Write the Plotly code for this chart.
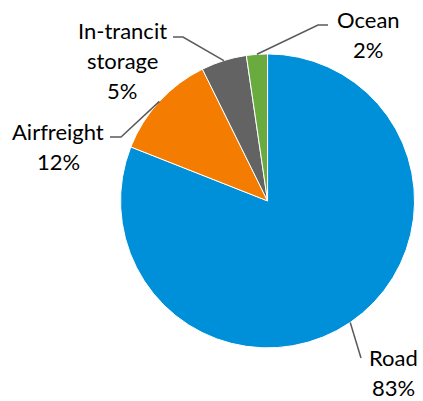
import math
import plotly.graph_objects as go

# ---- data ----
categories = ["Road", "Airfreight", "In-trancit<br>storage", "Ocean"]
shares = [80.9, 11.7, 5.0, 2.3]
pct_labels = ["83%", "12%", "5%", "2%"]
colors = ["#0090DA", "#F47C00", "#636363", "#6AAB3F"]

W, H = 423, 401
dom_x = [0.285, 0.980]
dom_y = [0.132, 0.866]
LINE_GAP = 30  # px between label lines

fig = go.Figure(go.Pie(
    labels=categories, values=shares, sort=False, direction="clockwise", rotation=0,
    marker=dict(colors=colors, line=dict(color="white", width=1)),
    textinfo="none", hoverinfo="label+percent", showlegend=False,
    domain=dict(x=dom_x, y=dom_y),
))

# pie geometry in pixels
cx = (dom_x[0] + dom_x[1]) / 2 * W
cy = (1 - (dom_y[0] + dom_y[1]) / 2) * H
R = min((dom_x[1] - dom_x[0]) * W, (dom_y[1] - dom_y[0]) * H) / 2

total = sum(shares)
mids = []
acc = 0
for v in shares:
    mids.append((acc + v / 2) / total * 2 * math.pi)
    acc += v

def px2paper(x, y):
    return x / W, 1 - y / H

# label placement (pixels): elbow, end of leader, center x and first-line y
label_layout = [
    dict(elbow=(361, 358), end=None, text=(393, 357)),
    dict(elbow=(121, 137), end=(110, 137), text=(58, 131)),
    dict(elbow=(183, 37), end=(173, 37), text=(122, 31)),
    dict(elbow=(318, 25), end=(328, 25), text=(368, 19)),
]

shapes = []
annotations = []
for i, (cat, pct, ang) in enumerate(zip(categories, pct_labels, mids)):
    sx = cx + R * math.sin(ang)
    sy = cy - R * math.cos(ang)
    lay = label_layout[i]
    pts = [(sx, sy), lay["elbow"]] + ([lay["end"]] if lay["end"] else [])
    path = "M " + " L ".join("%.4f,%.4f" % px2paper(*p) for p in pts)
    shapes.append(dict(type="path", path=path, xref="paper", yref="paper",
                       line=dict(color="#5A5A5A", width=1.5)))
    lines = cat.split("<br>") + [pct]
    x0, y0 = lay["text"]
    for k, ln in enumerate(lines):
        tx, ty = px2paper(x0, y0 + k * LINE_GAP)
        annotations.append(dict(x=tx, y=ty, xref="paper", yref="paper",
                                text=ln, showarrow=False,
                                xanchor="center", yanchor="middle", align="center",
                                font=dict(family="Lato", size=22, color="#000000")))

fig.update_layout(
    width=W, height=H, margin=dict(l=0, r=0, t=0, b=0),
    paper_bgcolor="white", plot_bgcolor="white",
    shapes=shapes, annotations=annotations,
)

fig.write_html("out.html")
